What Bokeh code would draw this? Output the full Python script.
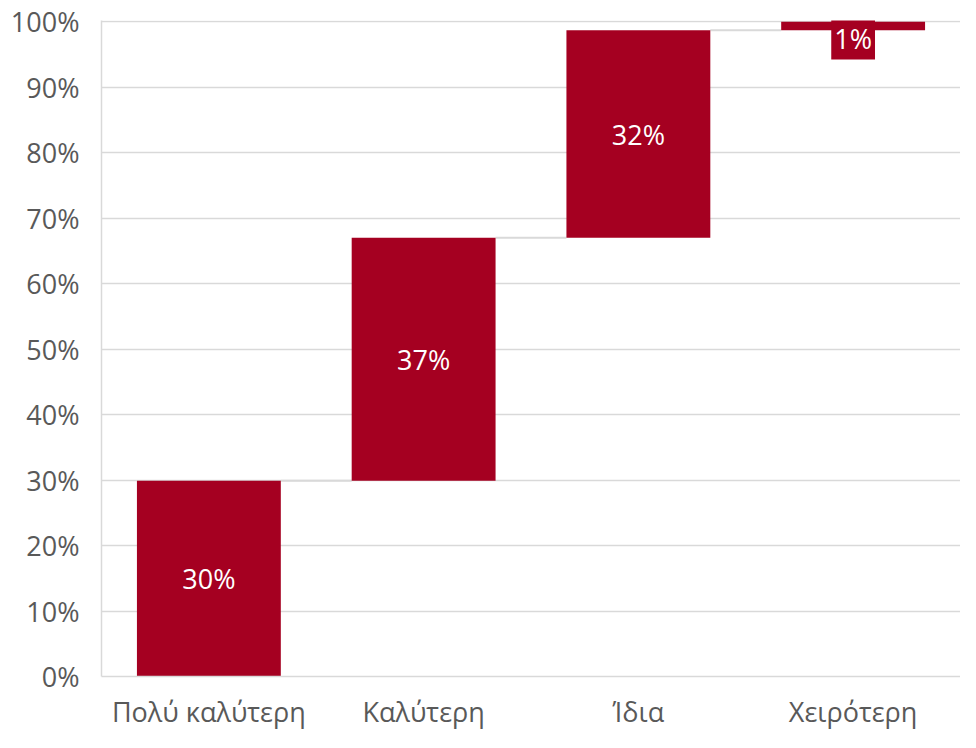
import numpy as np
from bokeh.plotting import figure
from bokeh.models import ColumnDataSource, FactorRange, Range1d, FixedTicker, PrintfTickFormatter
from bokeh.core.properties import value
from bokeh.embed import file_html
from bokeh.resources import INLINE

categories = ["Πολύ καλύτερη", "Καλύτερη", "Ίδια", "Χειρότερη"]
values = [29.9, 37.1, 31.7, 1.3]
yticks = [0, 10, 20, 30, 40, 50, 60, 70, 80, 90, 100]

RED = "#A50021"
GRID = "#D9D9D9"
TXT = "#595959"
FONT = "Open Sans"

tops = np.cumsum(values)
bottoms = tops - np.array(values)
labels = [f"{round(v):d}%" for v in values]

src = ColumnDataSource(dict(
    x=categories, top=tops, bottom=bottoms, mid=(tops + bottoms) / 2,
    label=labels,
    bg=[None, None, None, RED],
    yoff=[0, 0, 0, 12],
))

p = figure(x_range=FactorRange(*categories, range_padding=0), y_range=Range1d(0, 100.2),
           width=960, height=732, output_backend="svg", toolbar_location=None,
           min_border_left=101, min_border_right=0, min_border_top=20, min_border_bottom=55)
p.outline_line_color = None

# connectors
bw = 0.67
for i in range(len(categories) - 1):
    p.line(x=[(categories[i], bw / 2), (categories[i + 1], -bw / 2)], y=[tops[i], tops[i]],
           line_color=GRID, line_width=2)

p.vbar(x="x", top="top", bottom="bottom", width=bw, source=src, fill_color=RED, line_color=None)

p.text(x="x", y="mid", text="label", source=src, text_color="white",
       text_font=value(FONT), text_font_size="27px", text_align="center", text_baseline="middle",
       y_offset="yoff", background_fill_color="bg", padding=3)

p.xgrid.grid_line_color = None
p.ygrid.grid_line_color = GRID
p.ygrid.grid_line_width = 1.5
p.yaxis.ticker = FixedTicker(ticks=yticks)
p.yaxis.formatter = PrintfTickFormatter(format="%d%%")
for ax in (p.xaxis[0], p.yaxis[0]):
    ax.axis_line_color = GRID
    ax.axis_line_width = 1.5
    ax.major_tick_line_color = None
    ax.minor_tick_line_color = None
    ax.major_label_text_font = FONT
    ax.major_label_text_font_size = "27px"
    ax.major_label_text_color = TXT
p.yaxis.major_label_standoff = 16
p.xaxis.major_label_standoff = 10

open("out.html", "w").write(file_html(p, INLINE))
